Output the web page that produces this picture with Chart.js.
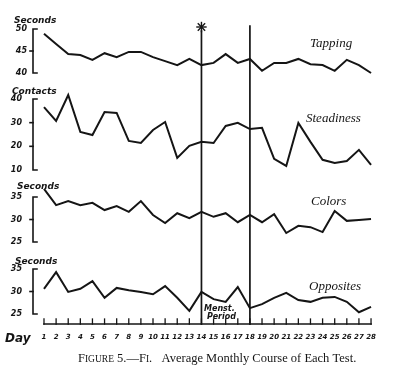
<!DOCTYPE html>
<html>
<head>
<meta charset="utf-8">
<script src="https://cdn.jsdelivr.net/npm/chart.js@4.4.0/dist/chart.umd.min.js"></script>
<style>
  html, body { margin: 0; padding: 0; background: #fff; }
  #wrap { width: 400px; height: 374px; }
</style>
</head>
<body>
<div id="wrap"><canvas id="myChart"></canvas></div>
<script>
// day of the month
const days = [1, 2, 3, 4, 5, 6, 7, 8, 9, 10, 11, 12, 13, 14,
  15, 16, 17, 18, 19, 20, 21, 22, 23, 24, 25, 26, 27, 28];

// seconds
const tapping = [48.9, 46.6, 44.3, 44.1, 43.0, 44.5, 43.6, 44.8, 44.8, 43.6, 42.7, 41.8, 43.2, 41.8,
  42.3, 44.3, 42.3, 43.2, 40.5, 42.3, 42.3, 43.2, 42.0, 41.8, 40.5, 43.0, 41.8, 40.0];
// contacts
const steadiness = [36.6, 30.7, 41.7, 26.1, 24.8, 34.5, 34.1, 22.3, 21.4, 26.9, 30.3, 15.1, 20.2, 21.9,
  21.4, 28.6, 29.9, 27.3, 27.8, 14.7, 11.7, 29.9, 21.9, 14.3, 13.0, 13.8, 18.5, 12.2];
// seconds
const colors = [36.8, 33.2, 34.1, 33.2, 33.7, 32.1, 33.0, 31.7, 34.1, 31.0, 29.2, 31.4, 30.3, 31.7,
  30.6, 31.4, 29.4, 31.0, 29.4, 31.2, 27.0, 28.6, 28.3, 27.2, 31.9, 29.7, 29.9, 30.1];
// seconds
const opposites = [30.6, 34.3, 29.9, 30.6, 32.3, 28.6, 30.8, 30.3, 29.9, 29.4, 31.2, 28.6, 25.7, 29.9,
  28.3, 27.7, 31.0, 26.3, 27.2, 28.6, 29.7, 28.1, 27.7, 28.6, 28.8, 27.7, 25.4, 26.6];

const tapTicks = [40, 45, 50];
const steadyTicks = [10, 20, 30, 40];
const colorTicks = [25, 30, 35];
const oppTicks = [25, 30, 35];

const mensStart = 14;
const mensEnd = 18;

const INK = "#151515";
const hand = "'DejaVu Sans', sans-serif";
const serif = "'Liberation Serif', serif";

function pts(values) {
  return values.map((v, i) => ({ x: days[i], y: v }));
}

function yAxis(min, max, weight, order, ticks, pad) {
  return {
    type: "linear",
    position: "left",
    stack: "tests",
    stackWeight: weight,
    weight: order,
    min: min,
    max: max,
    grid: { display: false, drawTicks: false },
    border: { display: false },
    ticks: {
      padding: pad,
      color: INK,
      font: { family: hand, size: 8, style: "italic", weight: "bold" },
    },
    afterBuildTicks: (scale) => {
      scale.ticks = ticks.map((v) => ({ value: v }));
    },
    afterFit: (scale) => {
      scale.width = 36;
    },
  };
}

const brackets = [
  ["yTap", tapTicks],
  ["ySteady", steadyTicks],
  ["yColor", colorTicks],
  ["yOpp", oppTicks],
];

const decorations = {
  id: "decorations",
  afterDraw(chart) {
    const ctx = chart.ctx;
    const xs = chart.scales.x;
    const area = chart.chartArea;
    ctx.save();
    ctx.strokeStyle = INK;
    ctx.fillStyle = INK;
    ctx.lineCap = "square";

    // bracket axes
    ctx.lineWidth = 1.6;
    brackets.forEach(([id, t]) => {
      const s = chart.scales[id];
      const top = s.getPixelForValue(t[t.length - 1]);
      const bot = s.getPixelForValue(t[0]);
      const bx = 33;
      ctx.beginPath();
      ctx.moveTo(bx + 4, top);
      ctx.lineTo(bx, top);
      ctx.lineTo(bx, bot);
      ctx.lineTo(bx + 4, bot);
      ctx.stroke();
      t.slice(1, -1).forEach((v) => {
        const y = s.getPixelForValue(v);
        ctx.beginPath();
        ctx.moveTo(bx - 3, y);
        ctx.lineTo(bx, y);
        ctx.stroke();
      });
    });

    // x axis with upward ticks
    const y0 = area.bottom;
    ctx.lineWidth = 1.6;
    ctx.beginPath();
    ctx.moveTo(xs.getPixelForValue(days[0]), y0);
    ctx.lineTo(xs.getPixelForValue(days[days.length - 1]), y0);
    ctx.stroke();
    ctx.lineWidth = 1.3;
    days.forEach((d) => {
      const x = xs.getPixelForValue(d);
      ctx.beginPath();
      ctx.moveTo(x, y0);
      ctx.lineTo(x, y0 - 5);
      ctx.stroke();
    });

    // menstrual period lines
    const xa = xs.getPixelForValue(mensStart);
    const xb = xs.getPixelForValue(mensEnd);
    ctx.lineWidth = 1.7;
    ctx.beginPath();
    ctx.moveTo(xa, 31);
    ctx.lineTo(xa, y0);
    ctx.moveTo(xb, 26);
    ctx.lineTo(xb, y0);
    ctx.stroke();
    // star
    ctx.lineWidth = 1.4;
    const sy = 27, r = 4.5;
    for (let k = 0; k < 4; k++) {
      const a = (k * Math.PI) / 4;
      ctx.beginPath();
      ctx.moveTo(xa - r * Math.cos(a), sy - r * Math.sin(a));
      ctx.lineTo(xa + r * Math.cos(a), sy + r * Math.sin(a));
      ctx.stroke();
    }

    // unit labels
    ctx.textBaseline = "middle";
    ctx.textAlign = "left";
    ctx.font = "italic bold 9px " + hand;
    ctx.fillText("Seconds", 14, 21);
    ctx.fillText("Contacts", 12, 92);
    ctx.fillText("Seconds", 17, 187);
    ctx.fillText("Seconds", 15, 262);

    // test names
    ctx.font = "italic 13px " + serif;
    ctx.fillText("Tapping", 310, 44);
    ctx.fillText("Steadiness", 306, 119);
    ctx.fillText("Colors", 311, 202);
    ctx.fillText("Opposites", 309, 287);

    ctx.font = "italic bold 8px " + hand;
    ctx.fillText("Menst.", 204, 309);
    ctx.fillText("Period", 207, 317);

    ctx.font = "italic bold 12px " + hand;
    ctx.textBaseline = "alphabetic";
    ctx.fillText("Day", 5, 342);

    // caption, small caps by hand
    const parts = [
      ["F", 12.5], ["IGURE", 9.5], [" 5.\u2014F", 12.5], ["I", 9.5], [".   Average Monthly Course of Each Test.", 12.5],
    ];
    let cx = 78;
    parts.forEach(([txt, size]) => {
      ctx.font = size + "px " + serif;
      ctx.fillText(txt, cx, 362);
      cx += ctx.measureText(txt).width;
    });
    ctx.restore();
  },
};

const line = (values, axis) => ({
  data: pts(values),
  yAxisID: axis,
  borderColor: INK,
  borderWidth: 2,
  pointRadius: 0,
  tension: 0,
  fill: false,
});

const config = {
  type: "line",
  data: {
    datasets: [
      line(tapping, "yTap"),
      line(steadiness, "ySteady"),
      line(colors, "yColor"),
      line(opposites, "yOpp"),
    ],
  },
  options: {
    responsive: true,
    maintainAspectRatio: false,
    animation: false,
    layout: { padding: { top: 22, left: 0, right: 20, bottom: 0 } },
    plugins: {
      legend: { display: false },
      tooltip: { enabled: false },
    },
    scales: {
      x: {
        type: "linear",
        min: 0.34,
        max: 28.74,
        grid: { display: false, drawTicks: false },
        border: { display: false },
        ticks: {
          autoSkip: false,
          maxRotation: 0,
          padding: 9,
          color: INK,
          font: { family: hand, size: 7, style: "italic", weight: "bold" },
        },
        afterBuildTicks: (scale) => {
          scale.ticks = days.map((d) => ({ value: d }));
        },
        afterFit: (scale) => {
          scale.height = 50;
        },
      },
      yTap: yAxis(36.14, 51.59, 68, 4, tapTicks, 9),
      ySteady: yAxis(3.66, 43.8, 95, 3, steadyTicks, 14),
      yColor: yAxis(21.67, 37.67, 72, 2, colorTicks, 14),
      yOpp: yAxis(22.78, 37.67, 67, 1, oppTicks, 14),
    },
  },
  plugins: [decorations],
};

const myChart = new Chart(document.getElementById("myChart"), config);
</script>
</body>
</html>
